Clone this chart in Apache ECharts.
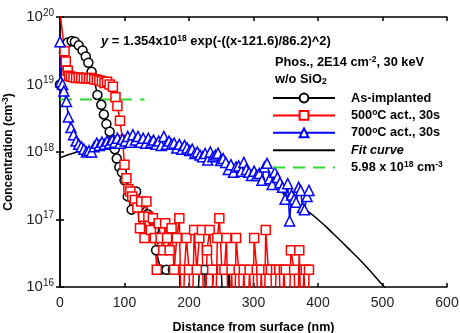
<!DOCTYPE html>
<html>
<head>
<meta charset="utf-8">
<script src="https://cdn.jsdelivr.net/npm/echarts@6/dist/echarts.min.js"></script>
<style>
  html, body { margin: 0; padding: 0; background: #fff; }
  #chart { width: 460px; height: 333px; }
</style>
</head>
<body>
<div id="chart"></div>
<script>
// SIMS profiles, [depth nm, concentration cm^-3]
const asImplanted = [
  [0,1.0e19],[6,3.0e19],[12,4.2e19],[18,4.4e19],[23,4.3e19],[29,3.8e19],[35,3.2e19],[40,2.6e19],
  [44,2.1e19],[49,1.55e19],[53,1.17e19],[58,7.0e18],[64,5.0e18],[68,3.6e18],[72,2.6e18],[77,2.0e18],
  [82,1.5e18],[85,1.1e18],[88,8.0e17],[92,6.0e17],[96,5.0e17],[100,3.8e17],[105,2.2e17],[111,1.4e17],
  [118,2.6e17],[124,1.6e17],[130,1.1e17],[136,1.2e17],[142,7e16],[146,7e16],[149,3.5e16],[156,1.8e16],
  [165,1.8e16],[175,1.8e16],[185,1.8e16],[190,1e15],[200,1e15],[210,1e15],[216,1.8e16],[224,1.8e16],
  [230,1e15],[238,1.8e16],[245,1.8e16],[250,1.8e16],[256,1e15],[262,1.8e16],[268,1e15]
];
const act500 = [
  [0,1.2e20],[7,3.1e19],[9,2.2e19],[12,1.6e19],[14,1.35e19],[17,1.3e19],[21,1.28e19],[25,1.25e19],
  [29,1.27e19],[33,1.25e19],[37,1.24e19],[41,1.25e19],[45,1.22e19],[49,1.25e19],[53,1.2e19],[57,1.18e19],
  [61,1.15e19],[65,1.12e19],[69,1.05e19],[73,1.1e19],[77,1.0e19],[82,9.3e18],[86,6.5e18],[89,4.8e18],
  [93,2.9e18],[97,1.5e18],[100,6.5e17],[103,4.1e17],[106,2.8e17],[109,2.6e17],[112,2.2e17],[116,1.95e17],
  [120,1.5e17],[124,7.4e16],[126,1.85e17],[129,1.1e17],[131,5.3e16],[134,1.85e17],[137,1.1e17],[141,7e16],
  [144,1.04e17],[147,5.3e16],[150,1.8e16],[153,8.8e16],[156,5.3e16],[160,3.5e16],[163,8.8e16],[166,5.3e16],
  [170,3.5e16],[173,7.4e16],[177,1.8e16],[181,5.3e16],[185,1.04e17],[189,1e15],[193,1.8e16],[196,5.3e16],
  [200,1.8e16],[204,1e15],[208,7e16],[212,1.8e16],[216,5.3e16],[220,7e16],[224,1e15],[228,3.5e16],
  [232,7e16],[236,1.8e16],[240,1e15],[244,5.3e16],[247,1.04e17],[251,1.8e16],[255,1.8e16],[258,5.3e16],
  [262,1e15],[266,1.8e16],[270,1e15],[273,5.3e16],[277,1.8e16],[281,1e15],[285,1.8e16],[289,1e15],
  [294,1.8e16],[298,1e15],[301,5.3e16],[305,1.8e16],[309,1e15],[312,1.8e16],[316,1e15],[319,7e16],
  [323,1.8e16],[327,1.8e16],[331,1e15],[335,1.8e16],[340,1.8e16],[344,1e15],[347,1.8e16],[350,1.8e16],
  [354,1e15],[358,3.5e16],[363,1.8e16],[367,1e15],[371,3.5e16],[375,1e15],[378,1.8e16],[381,1.8e16],
  [384,1e15],[386,1.8e16]
];
const act700 = [
  [0,4.3e19],[1,1.1e19],[4,1.0e19],[6,8e18],[10,5.6e18],[13,3.3e18],[17,2.3e18],[21,1.8e18],
  [25,1.45e18],[29,1.3e18],[33,1.2e18],[37,1.1e18],[41,1.0e18],[45,1.05e18],[49,1.0e18],[53,1.2e18],
  [57,1.35e18],[61,1.25e18],[65,1.4e18],[69,1.3e18],[73,1.45e18],[77,1.35e18],[81,1.5e18],[85,1.4e18],
  [89,1.6e18],[93,1.35e18],[97,1.55e18],[101,1.45e18],[105,1.7e18],[109,1.4e18],[113,1.8e18],[117,1.5e18],
  [121,1.7e18],[125,1.4e18],[129,1.6e18],[133,1.35e18],[137,1.6e18],[141,1.4e18],[145,1.5e18],[149,1.3e18],
  [153,1.45e18],[157,1.25e18],[161,1.7e18],[165,1.3e18],[169,1.45e18],[173,1.3e18],[177,1.35e18],[181,1.15e18],
  [185,1.3e18],[189,1.1e18],[193,1.25e18],[197,1.15e18],[201,1.05e18],[205,1.1e18],[209,9.5e17],[213,1.0e18],
  [217,9.0e17],[221,8.5e17],[225,9.5e17],[229,7.6e17],[233,1.0e18],[237,8.5e17],[241,9.0e17],[245,9.6e17],
  [249,7.5e17],[253,8.0e17],[257,7.0e17],[261,5.5e17],[265,6.5e17],[269,5.0e17],[273,6.0e17],[277,6.2e17],
  [281,5.2e17],[285,7.0e17],[289,5.5e17],[293,5.0e17],[297,4.5e17],[301,5.2e17],[305,4.5e17],[309,4.8e17],
  [313,3.8e17],[317,6.0e17],[321,6.8e17],[325,4.0e17],[329,3.3e17],[333,5.0e17],[337,4.2e17],[341,3.5e17],
  [345,3.0e17],[349,2.0e17],[353,3.4e17],[356,9.5e16],[359,2.3e17],[363,2.0e17],[366,1.8e17],[370,3.0e17],
  [373,2.7e17],[376,1.5e17],[379,1.4e17],[383,2.2e17],[386,2.7e17]
];
const fitCurve = [
  [0,8.2e17],[25,9.9e17],[50,1.14e18],[75,1.26e18],[100,1.33e18],[125,1.35e18],[150,1.32e18],
  [175,1.23e18],[200,1.10e18],[225,9.4e17],[250,7.8e17],[275,6.1e17],[300,4.6e17],[325,3.3e17],
  [350,2.3e17],[375,1.54e17],[400,1.0e17],[425,6.0e16],[450,3.5e16],[475,2.0e16],[500,1.07e16],[510,8.3e15]
];
const activeLevel = [[0,5.98e18],[131,5.98e18]];
const xTicks = [0, 600, 100];
const yDecades = [16, 20];

const seriesNames = ['As-implanted', '500°C act., 30s', '700°C act., 30s', 'Fit curve', '5.98 x 10^18 cm^-3'];
const legendLabels = {
  'As-implanted': 'As-implanted',
  '500°C act., 30s': '500{sup|o}C act., 30s',
  '700°C act., 30s': '700{sup|o}C act., 30s',
  'Fit curve': '{it|Fit curve}',
  '5.98 x 10^18 cm^-3': '5.98 x 10{sup|18} cm{sup|-3}'
};

const FONT = 'Liberation Sans, Arial, sans-serif';
const supStyle = { fontSize: 8.5, fontWeight: 'bold', fontFamily: FONT, verticalAlign: 'top', lineHeight: 14, color: '#000' };
const subStyle = { fontSize: 8.5, fontWeight: 'bold', fontFamily: FONT, verticalAlign: 'bottom', lineHeight: 14, color: '#000' };

const chart = echarts.init(document.getElementById('chart'), null, { renderer: 'canvas' });

const frameAxis = {
  axisLine: { show: true, lineStyle: { color: '#000', width: 1.5 } },
  axisTick: { show: true, inside: true, length: 4, lineStyle: { color: '#000', width: 1.5 } },
  splitLine: { show: false }
};

chart.setOption({
  animation: false,
  backgroundColor: '#fff',
  grid: { left: 60, right: 13, top: 17, bottom: 46, containLabel: false, outerBoundsMode: 'none' },
  xAxis: [
    Object.assign({
      type: 'value', position: 'bottom', min: xTicks[0], max: xTicks[1], interval: xTicks[2],
      name: 'Distance from surface (nm)', nameLocation: 'middle', nameGap: 34,
      nameTextStyle: { fontFamily: FONT, fontWeight: 'bold', fontSize: 12.5, color: '#000' },
      axisLabel: { fontFamily: FONT, fontSize: 14, color: '#222', margin: 9 }
    }, frameAxis),
    Object.assign({
      type: 'value', position: 'top', min: xTicks[0], max: xTicks[1], interval: xTicks[2],
      axisLabel: { show: false }
    }, frameAxis)
  ],
  yAxis: [
    Object.assign({
      type: 'log', logBase: 10, min: Math.pow(10, yDecades[0]), max: Math.pow(10, yDecades[1]),
      position: 'left',
      name: 'Concentration (cm{sup|-3})', nameLocation: 'middle', nameGap: 40, nameRotate: 90,
      nameTextStyle: { fontFamily: FONT, fontWeight: 'bold', fontSize: 12, color: '#000', lineHeight: 14, rich: { sup: supStyle } },
      axisLabel: {
        margin: 6, fontFamily: FONT, fontSize: 15, color: '#222', lineHeight: 18,
        formatter: v => '10{s|' + Math.round(Math.log10(v)) + '}',
        rich: { s: { fontSize: 10, fontFamily: FONT, color: '#222', verticalAlign: 'top', lineHeight: 18 } }
      },
      minorTick: { show: false }
    }, frameAxis),
    Object.assign({
      type: 'log', logBase: 10, min: Math.pow(10, yDecades[0]), max: Math.pow(10, yDecades[1]),
      position: 'right', axisLabel: { show: false }
    }, frameAxis)
  ],
  legend: {
    orient: 'vertical', left: 272, top: 91, padding: 0,
    itemWidth: 62, itemHeight: 11, itemGap: 3.4,
    data: [
      seriesNames[0], seriesNames[1], seriesNames[2],
      { name: seriesNames[3], itemStyle: { opacity: 0 } },
      { name: seriesNames[4], itemStyle: { opacity: 0 } }
    ],
    formatter: name => legendLabels[name],
    textStyle: {
      fontFamily: FONT, fontWeight: 'bold', fontSize: 12.7, color: '#000', lineHeight: 14, padding: [0, 0, 0, 11],
      rich: { sup: supStyle, it: { fontStyle: 'italic', fontWeight: 'bold', fontSize: 12.7, fontFamily: FONT, color: '#000', lineHeight: 14 } }
    }
  },
  graphic: [
    {
      type: 'text', left: 101, top: 34,
      style: {
        text: '{i|y} = 1.354x10{sup|18} exp(-((x-121.6)/86.2)^2)',
        fontFamily: FONT, fontWeight: 'bold', fontSize: 13, fill: '#000', lineHeight: 14,
        rich: { sup: supStyle, i: { fontStyle: 'italic', fontWeight: 'bold', fontSize: 13, fontFamily: FONT, lineHeight: 14 } }
      }
    },
    {
      type: 'text', left: 275, top: 55,
      style: {
        text: 'Phos., 2E14 cm{sup|-2}, 30 keV',
        fontFamily: FONT, fontWeight: 'bold', fontSize: 12.8, fill: '#000', lineHeight: 14,
        rich: { sup: supStyle }
      }
    },
    {
      type: 'text', left: 275, top: 72,
      style: {
        text: 'w/o SiO{sub|2}',
        fontFamily: FONT, fontWeight: 'bold', fontSize: 12.8, fill: '#000', lineHeight: 14,
        rich: { sub: subStyle }
      }
    }
  ],
  series: [
    {
      name: seriesNames[0], type: 'line', data: asImplanted,
      symbol: 'circle', symbolSize: 9, clip: true,
      lineStyle: { color: '#000', width: 1.5 },
      itemStyle: { color: '#fff', borderColor: '#000', borderWidth: 1.5 }
    },
    {
      name: seriesNames[1], type: 'line', data: act500,
      symbol: 'rect', symbolSize: 9, clip: true,
      lineStyle: { color: '#ff0000', width: 1.5 },
      itemStyle: { color: '#fff', borderColor: '#ff0000', borderWidth: 1.5 }
    },
    {
      name: seriesNames[2], type: 'line', data: act700,
      symbol: 'triangle', symbolSize: 10, clip: true,
      lineStyle: { color: '#0000ff', width: 1.5 },
      itemStyle: { color: '#fff', borderColor: '#0000ff', borderWidth: 1.5 }
    },
    {
      name: seriesNames[3], type: 'line', data: fitCurve, smooth: true,
      symbol: 'none', clip: true,
      lineStyle: { color: '#000', width: 1.5 },
      itemStyle: { color: '#000' }
    },
    {
      name: seriesNames[4], type: 'line', data: activeLevel,
      symbol: 'none', clip: true,
      lineStyle: { color: '#2fd82f', width: 2, type: [12, 8] },
      itemStyle: { color: '#2fd82f' }
    }
  ]
});
</script>
</body>
</html>
